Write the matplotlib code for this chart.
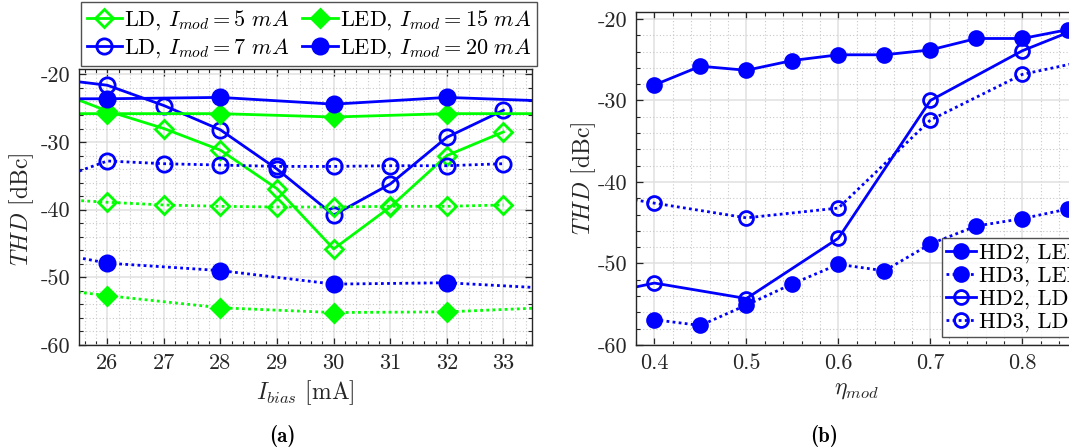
import numpy as np
import matplotlib
matplotlib.use("Agg")
import matplotlib.pyplot as plt
from matplotlib.ticker import MultipleLocator, FormatStrFormatter, FixedLocator, FixedFormatter

plt.rcParams['font.family'] = ['cmr10', 'DejaVu Serif']
plt.rcParams['mathtext.fontset'] = 'cm'
plt.rcParams['axes.unicode_minus'] = False
plt.rcParams['axes.formatter.use_mathtext'] = False

# ---------------- data: panel (a) ----------------
bias_labels = ['26', '27', '28', '29', '30', '31', '32', '33']
# x positions are category indices (0 -> 26 mA ... 7 -> 33 mA); points outside
# the view continue the lines to the plot edges as in the reference
ld5_solid_x = [-1, 0, 1, 2, 3, 4, 5, 6, 7]
ld5_solid_y = [-22.2, -25.4, -28.0, -31.2, -36.9, -45.8, -39.6, -32.0, -28.5]
ld5_dot_x = [-1, 0, 1, 2, 3, 4, 5, 6, 7]
ld5_dot_y = [-38.4, -38.9, -39.3, -39.5, -39.6, -39.6, -39.5, -39.5, -39.3]
ld7_solid_x = [-1, 0, 1, 2, 3, 4, 5, 6, 7]
ld7_solid_y = [-20.6, -21.6, -24.6, -28.2, -34.0, -40.8, -36.2, -29.3, -25.3]
ld7_dot_x = [-1, 0, 1, 2, 3, 4, 5, 6, 7]
ld7_dot_y = [-35.8, -32.8, -33.2, -33.4, -33.6, -33.6, -33.5, -33.5, -33.2]
led15_solid_x = [-2, 0, 2, 4, 6, 8]
led15_solid_y = [-25.8, -25.8, -25.8, -26.3, -25.8, -25.8]
led15_dot_x = [-2, 0, 2, 4, 6, 8]
led15_dot_y = [-50.7, -52.7, -54.5, -55.2, -55.1, -54.4]
led20_solid_x = [-2, 0, 2, 4, 6, 8]
led20_solid_y = [-23.6, -23.6, -23.4, -24.4, -23.4, -24.0]
led20_dot_x = [-2, 0, 2, 4, 6, 8]
led20_dot_y = [-44.7, -47.9, -49.0, -51.0, -50.8, -51.7]

# ---------------- data: panel (b) ----------------
eta_led = [0.40, 0.45, 0.50, 0.55, 0.60, 0.65, 0.70, 0.75, 0.80, 0.85]
hd2_led = [-28.1, -25.8, -26.3, -25.1, -24.4, -24.4, -23.8, -22.4, -22.4, -21.3]
hd3_led = [-56.9, -57.6, -55.1, -52.5, -50.1, -50.9, -47.6, -45.4, -44.5, -43.3]
eta_ld = [0.30, 0.40, 0.50, 0.60, 0.70, 0.80, 0.90]
hd2_ld = [-54.8, -52.4, -54.3, -46.9, -30.0, -23.9, -19.4]
hd3_ld = [-40.7, -42.6, -44.4, -43.2, -32.4, -26.8, -24.4]

GREEN = '#00ff00'
BLUE = '#0000ff'
DOT = (0, (1.0, 1.2))
LW = 2.0
TXT = '#262626'
TICK_FS = 16
LAB_FS = 17
LEG_FS = 16

W, H = 1069, 447
fig = plt.figure(figsize=(W / 100, H / 100), dpi=100)

ax1 = fig.add_axes([79 / W, 1 - 345 / H, (531.7 - 79) / W, (345 - 69) / H])
ax2 = fig.add_axes([636 / W, 1 - 345 / H, 441.6 / W, (345 - 12) / H])


def style(ax):
    ax.set_axisbelow(True)
    ax.grid(True, which='major', color='#e0e0e0', lw=1.1, ls='-')
    ax.grid(True, which='minor', color='#c8c8c8', lw=0.8, ls=(0, (1, 2)))
    ax.tick_params(which='both', direction='in', top=True, right=True,
                   colors=TXT, labelsize=TICK_FS)
    ax.tick_params(which='major', length=5, width=0.9, pad=6)
    ax.tick_params(which='minor', length=3, width=0.8)
    for s in ax.spines.values():
        s.set_color(TXT)
        s.set_linewidth(1.0)


# ----- panel (a) -----
ms = 11
dms = 9.5
ax1.plot(ld5_solid_x, ld5_solid_y, '-', color=GREEN, lw=LW, marker='D', ms=dms,
         mfc='none', mec=GREEN, mew=2, label=r'LD, $I_{mod} = 5\ mA$')
ax1.plot(ld7_solid_x, ld7_solid_y, '-', color=BLUE, lw=LW, marker='o', ms=ms,
         mfc='none', mec=BLUE, mew=2, label=r'LD, $I_{mod} = 7\ mA$')
ax1.plot(led15_solid_x, led15_solid_y, '-', color=GREEN, lw=LW, marker='D', ms=dms,
         mfc=GREEN, mec=GREEN, mew=2, label=r'LED, $I_{mod} = 15\ mA$')
ax1.plot(led20_solid_x, led20_solid_y, '-', color=BLUE, lw=LW, marker='o', ms=ms,
         mfc=BLUE, mec=BLUE, mew=2, label=r'LED, $I_{mod} = 20\ mA$')
ax1.plot(ld5_dot_x, ld5_dot_y, ls=DOT, color=GREEN, lw=LW, marker='D', ms=dms,
         mfc='none', mec=GREEN, mew=2)
ax1.plot(ld7_dot_x, ld7_dot_y, ls=DOT, color=BLUE, lw=LW, marker='o', ms=ms,
         mfc='none', mec=BLUE, mew=2)
ax1.plot(led15_dot_x, led15_dot_y, ls=DOT, color=GREEN, lw=LW, marker='D', ms=dms,
         mfc=GREEN, mec=GREEN, mew=2)
ax1.plot(led20_dot_x, led20_dot_y, ls=DOT, color=BLUE, lw=LW, marker='o', ms=ms,
         mfc=BLUE, mec=BLUE, mew=2)

ax1.set_xlim(-0.5, len(bias_labels) - 0.5)
ax1.set_ylim(-60, -19.2)
ax1.xaxis.set_major_locator(FixedLocator(np.arange(len(bias_labels))))
ax1.xaxis.set_major_formatter(FixedFormatter(bias_labels))
ax1.xaxis.set_minor_locator(MultipleLocator(0.2))
ax1.yaxis.set_major_locator(MultipleLocator(10))
ax1.yaxis.set_major_formatter(FormatStrFormatter('%d'))
ax1.yaxis.set_minor_locator(MultipleLocator(2))
style(ax1)
ax1.set_xlabel(r'$I_{bias}$ [mA]', fontsize=LAB_FS, color=TXT, labelpad=4)
ax1.set_ylabel(r'$THD$ [dBc]', fontsize=LAB_FS, color=TXT)
ax1.yaxis.set_label_coords(-0.096, 0.49)

leg1 = fig.legend(*ax1.get_legend_handles_labels(), ncol=2, mode='expand',
                  loc='center', bbox_to_anchor=(81 / W, 1 - 65 / H, 456 / W, 62 / H),
                  fontsize=LEG_FS, frameon=True, fancybox=False, edgecolor=TXT,
                  handlelength=1.6, handletextpad=0.1, columnspacing=0.1,
                  labelspacing=0.2, borderpad=0.25, borderaxespad=0)
leg1.get_frame().set_linewidth(1.0)

# ----- panel (b) -----
ax2.plot(eta_led, hd2_led, '-', color=BLUE, lw=LW, marker='o', ms=10,
         mfc=BLUE, mec=BLUE, mew=2, label='HD2, LED')
ax2.plot(eta_led, hd3_led, ls=DOT, color=BLUE, lw=LW, marker='o', ms=10,
         mfc=BLUE, mec=BLUE, mew=2, label='HD3, LED')
ax2.plot(eta_ld, hd2_ld, '-', color=BLUE, lw=LW, marker='o', ms=10,
         mfc='none', mec=BLUE, mew=2, label='HD2, LD')
ax2.plot(eta_ld, hd3_ld, ls=DOT, color=BLUE, lw=LW, marker='o', ms=10,
         mfc='none', mec=BLUE, mew=2, label='HD3, LD')
ax2.set_xlim(0.38, 0.86)
ax2.set_ylim(-60, -19.15)
ax2.xaxis.set_major_locator(MultipleLocator(0.1))
ax2.xaxis.set_major_formatter(FormatStrFormatter('%.1f'))
ax2.xaxis.set_minor_locator(MultipleLocator(0.02))
ax2.yaxis.set_major_locator(MultipleLocator(10))
ax2.yaxis.set_major_formatter(FormatStrFormatter('%d'))
ax2.yaxis.set_minor_locator(MultipleLocator(2))
style(ax2)
ax2.set_xlabel(r'$\eta_{mod}$', fontsize=LAB_FS, color=TXT, labelpad=4)
ax2.set_ylabel(r'$THD$ [dBc]', fontsize=LAB_FS, color=TXT)
ax2.yaxis.set_label_coords(-0.086, 0.5)

leg2 = ax2.legend(loc='upper left', bbox_to_anchor=(941.7 / W, 1 - 238.3 / H),
                  bbox_transform=fig.transFigure, fontsize=LEG_FS, frameon=True,
                  fancybox=False, edgecolor=TXT, handlelength=1.35,
                  handletextpad=0.12, labelspacing=0.15, borderpad=0.2,
                  borderaxespad=0)
leg2.get_frame().set_linewidth(1.0)

fig.text(282 / W, 1 - 436 / H, '(a)', fontsize=15, family='cmb10',
         ha='center', va='center', color='black')
fig.text(824 / W, 1 - 436 / H, '(b)', fontsize=15, family='cmb10',
         ha='center', va='center', color='black')

fig.savefig('out.png', dpi=100)
